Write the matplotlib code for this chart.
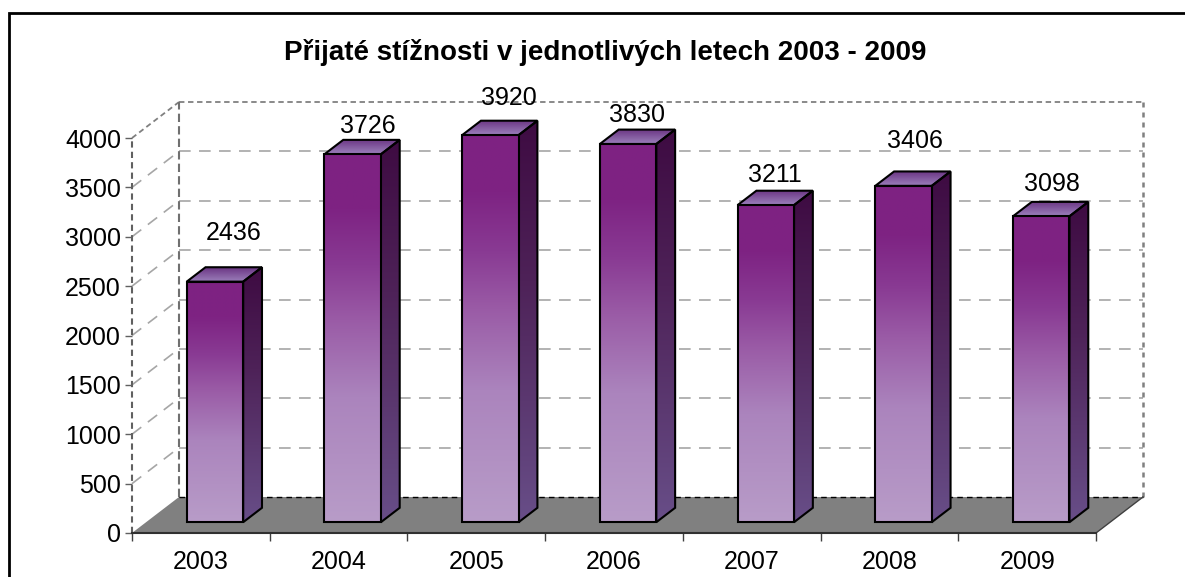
import numpy as np
import matplotlib
matplotlib.use("Agg")
import matplotlib.pyplot as plt
from matplotlib.patches import Polygon, Rectangle
from matplotlib.colors import LinearSegmentedColormap

# ---------------- data ----------------
years = ['2003', '2004', '2005', '2006', '2007', '2008', '2009']
complaints = [2436, 3726, 3920, 3830, 3211, 3406, 3098]
y_ticks = [0, 500, 1000, 1500, 2000, 2500, 3000, 3500, 4000]
title = 'Přijaté stížnosti v jednotlivých letech 2003 - 2009'

# label offsets (pixels) relative to the back-top centre of each bar
label_dx = [0, -4, 0, -10, -10, -7, -8]
label_dy = [27, 7, 16, 8, 9, 23, 11]

# ---------------- style ----------------
plt.rcParams['font.family'] = ['Liberation Sans', 'DejaVu Sans']
W, H = 1185, 577
fig = plt.figure(figsize=(W / 100, H / 100), dpi=100)
ax = fig.add_axes([132 / W, (H - 533) / H, (1096 - 132) / W, (533 - 138) / H])
n = len(years)
ymax = y_ticks[-1]
ax.set_xlim(0, n)
ax.set_ylim(0, ymax)

px_x = (1096 - 132) / n        # pixels per category
px_y = (533 - 138) / ymax      # pixels per value unit
DX = 47 / px_x                 # depth offset in data units
DY = 36 / px_y
bar_w = 0.41
zf, zb = 0.3, 0.7              # bar front/back depth fraction
FS = 18


def P(x, y, z):
    return (x + z * DX, y + z * DY)


def grad_fill(poly_pts, stops, zorder):
    xs = [p[0] for p in poly_pts]
    ys = [p[1] for p in poly_pts]
    cmap = LinearSegmentedColormap.from_list('g', stops)
    img = np.linspace(0, 1, 256).reshape(-1, 1)
    im = ax.imshow(img, cmap=cmap, extent=(min(xs), max(xs), min(ys), max(ys)),
                   origin='upper', aspect='auto', zorder=zorder,
                   interpolation='bilinear')
    poly = Polygon(poly_pts, closed=True, fill=False, edgecolor='black',
                   lw=1.5, joinstyle='miter', zorder=zorder + 0.1, clip_on=False)
    ax.add_patch(poly)
    im.set_clip_path(poly)
    im.set_clip_box(fig.bbox)


# floor
floor = Polygon([P(0, 0, 0), P(0, 0, 1), P(n, 0, 1), P(n, 0, 0)], closed=True,
                facecolor='#808080', edgecolor='none', zorder=1, clip_on=False)
ax.add_patch(floor)
x0, y0 = P(0, 0, 1); x1, y1 = P(n, 0, 1)
ax.plot([x0, x1], [y0, y1], color='black', lw=1, ls=(0, (4, 3)), zorder=1.5, clip_on=False)
x0, y0 = P(n, 0, 0); x1, y1 = P(n, 0, 1)
ax.plot([x0, x1], [y0, y1], color='#404040', lw=1, zorder=1.5, clip_on=False)

# walls: gridlines
for v in y_ticks[1:-1]:
    a = P(0, v, 1); b = P(n, v, 1)
    ax.plot([a[0], b[0]], [a[1], b[1]], color='#a6a6a6', lw=1.2, ls=(0, (7, 5)),
            zorder=0.5, clip_on=False)
    c = P(0, v, 0)
    ax.plot([c[0], a[0]], [c[1], a[1]], color='#a6a6a6', lw=1.2, ls=(0, (7, 5)),
            zorder=0.5, clip_on=False)
# top edges (dotted)
a = P(0, ymax, 1); b = P(n, ymax, 1); c = P(0, ymax, 0)
ax.plot([a[0], b[0]], [a[1], b[1]], color='#808080', lw=1.3, ls=(0, (3, 2)), zorder=0.5, clip_on=False)
ax.plot([c[0], a[0]], [c[1], a[1]], color='#808080', lw=1.3, ls=(0, (3, 2)), zorder=0.5, clip_on=False)
# back wall verticals
a = P(0, 0, 1); b = P(0, ymax, 1)
ax.plot([a[0], b[0]], [a[1], b[1]], color='#707070', lw=1.5, ls=(0, (4, 2)), zorder=0.6, clip_on=False)
a = P(n, 0, 1); b = P(n, ymax, 1)
ax.plot([a[0], b[0]], [a[1], b[1]], color='#808080', lw=1.8, ls=(0, (2, 2)), zorder=0.6, clip_on=False)
# front-left wall edge
ax.plot([0, 0], [0, ymax], color='#606060', lw=1.5, ls=(0, (3, 2)), zorder=0.6, clip_on=False)

front_stops = [(0.0, '#7e2282'), (0.15, '#7e2383'), (0.3, '#893a93'),
               (0.45, '#9a5ba6'), (0.66, '#ab84bd'), (1.0, '#b89cc8')]
side_stops = [(0.0, '#3e0b42'), (0.4, '#4e2258'), (1.0, '#684e88')]
top_stops = [(0.0, '#6a3482'), (1.0, '#9c80bc')]

for i, v in enumerate(complaints):
    xl = i + (1 - bar_w) / 2
    xr = xl + bar_w
    front = [P(xl, 0, zf), P(xr, 0, zf), P(xr, v, zf), P(xl, v, zf)]
    side = [P(xr, 0, zf), P(xr, 0, zb), P(xr, v, zb), P(xr, v, zf)]
    top = [P(xl, v, zf), P(xr, v, zf), P(xr, v, zb), P(xl, v, zb)]
    grad_fill(side, side_stops, 3)
    grad_fill(top, top_stops, 3)
    grad_fill(front, front_stops, 4)
    cx, cy = P((xl + xr) / 2, v, zb)
    ax.annotate(f'{v}', (cx, cy), xytext=(label_dx[i] * 0.72, label_dy[i] * 0.72),
                textcoords='offset points', ha='center', va='baseline',
                fontsize=FS, color='black', zorder=6, annotation_clip=False)

# axes
for s in ax.spines.values():
    s.set_visible(False)
ax.plot([0, n], [0, 0], color='#303030', lw=1.5, zorder=2, clip_on=False)
ax.set_yticks(y_ticks)
ax.set_yticklabels([str(t) for t in y_ticks])
ax.tick_params(axis='y', length=5, width=1, color='#606060', pad=3, labelsize=FS)
ax.set_xticks(np.arange(n + 1))
ax.set_xticklabels([])
ax.set_xticks(np.arange(n) + 0.5, minor=True)
ax.set_xticklabels(years, minor=True)
ax.tick_params(axis='x', which='major', length=6, width=1, color='#404040')
ax.tick_params(axis='x', which='minor', length=0, pad=12, labelsize=FS)
ax.set_xlim(0, n)
ax.set_ylim(0, ymax)
ax.patch.set_visible(False)

fig.text(605 / W, 1 - 52 / H, title, ha='center', va='center',
         fontsize=20, fontweight='bold')

fig.patches.append(Rectangle((8.5 / W, -0.1), 1.2, (H - 12.5) / H + 0.1,
                             transform=fig.transFigure, fill=False,
                             edgecolor='black', lw=2, figure=fig))

fig.savefig('out.png', dpi=100)
